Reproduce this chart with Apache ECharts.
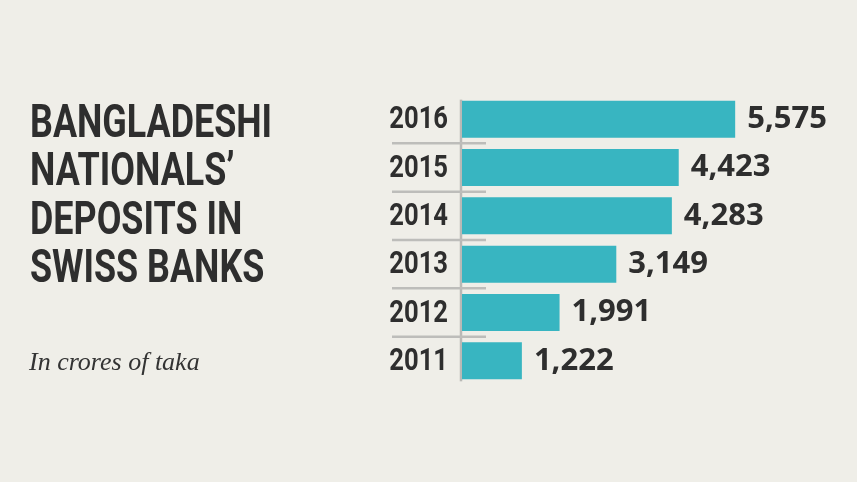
<!DOCTYPE html>
<html>
<head>
<meta charset="utf-8">
<script src="https://cdn.jsdelivr.net/npm/echarts@6/dist/echarts.min.js"></script>
<style>
html,body{margin:0;padding:0;background:#efeee8;}
#chart{width:857px;height:482px;}
</style>
</head>
<body>
<div id="chart"></div>
<script>
const categories = ['2016', '2015', '2014', '2013', '2012', '2011'];
const values = [5575, 4423, 4283, 3149, 1991, 1222];
const titleLines = ['BANGLADESHI', 'NATIONALS’', 'DEPOSITS IN', 'SWISS BANKS'];
const subtitle = 'In crores of taka';

const BAR_W = 37;
const COND_FONT = '"Roboto", "DejaVu Sans", sans-serif';
const chart = echarts.init(document.getElementById('chart'));
chart.setOption({
  backgroundColor: '#efeee8',
  animation: false,
  graphic: [
    {
      type: 'text', x: 30, y: 101, scaleX: 0.78,
      style: {
        text: titleLines.join('\n'),
        font: 'bold 46px ' + COND_FONT,
        fill: '#2e2e2e', lineHeight: 48.5
      }
    },
    {
      type: 'text', x: 29, y: 350,
      style: {
        text: subtitle,
        font: 'italic 26px "Liberation Serif", serif',
        fill: '#333333'
      }
    }
  ],
  grid: { left: 462, top: 95, height: 290, width: 392, containLabel: false },
  xAxis: { type: 'value', min: 0, max: 8000, show: false },
  yAxis: {
    type: 'category', inverse: true, data: categories,
    axisLine: { show: false }, axisTick: { show: false }, splitLine: { show: false },
    axisLabel: { show: false }
  },
  series: [
    {
      type: 'custom', silent: true, clip: false, z: 1,
      data: categories.map(function (c, i) { return [0, i]; }),
      encode: { x: 0, y: 1 },
      renderItem: function (params, api) {
        const i = api.value(1);
        const p = api.coord([0, i]);
        const band = api.size([0, 1])[1];
        const x0 = p[0];
        const children = [];
        const yTop = i === 0 ? p[1] - BAR_W / 2 - 1 : p[1] - band / 2;
        const yBot = i === categories.length - 1 ? p[1] + BAR_W / 2 + 2 : p[1] + band / 2;
        children.push({ type: 'line', shape: { x1: x0 - 1, y1: yTop, x2: x0 - 1, y2: yBot },
          style: { stroke: '#b9b9b6', lineWidth: 2.5 } });
        if (i > 0) {
          const ys = p[1] - band / 2;
          children.push({ type: 'line', shape: { x1: x0 - 70, y1: ys, x2: x0 + 24, y2: ys },
            style: { stroke: '#bdbdba', lineWidth: 2.5 } });
        }
        children.push({ type: 'text', x: x0 - 14, y: p[1] + 1, scaleX: 0.8,
          style: { text: categories[i], textAlign: 'right', textVerticalAlign: 'middle',
            font: 'bold 32px ' + COND_FONT, fill: '#2e2e2e' } });
        return { type: 'group', children: children };
      }
    },
    {
      type: 'bar', data: values, barWidth: BAR_W, z: 2,
      itemStyle: { color: '#38b5c1' },
      label: {
        show: true, position: 'right', distance: 12,
        color: '#2e2e2e', fontSize: 31, fontWeight: 'bold',
        fontFamily: '"Open Sans", sans-serif',
        formatter: function (p) { return p.value.toLocaleString('en-US'); }
      }
    }
  ]
});
</script>
</body>
</html>
